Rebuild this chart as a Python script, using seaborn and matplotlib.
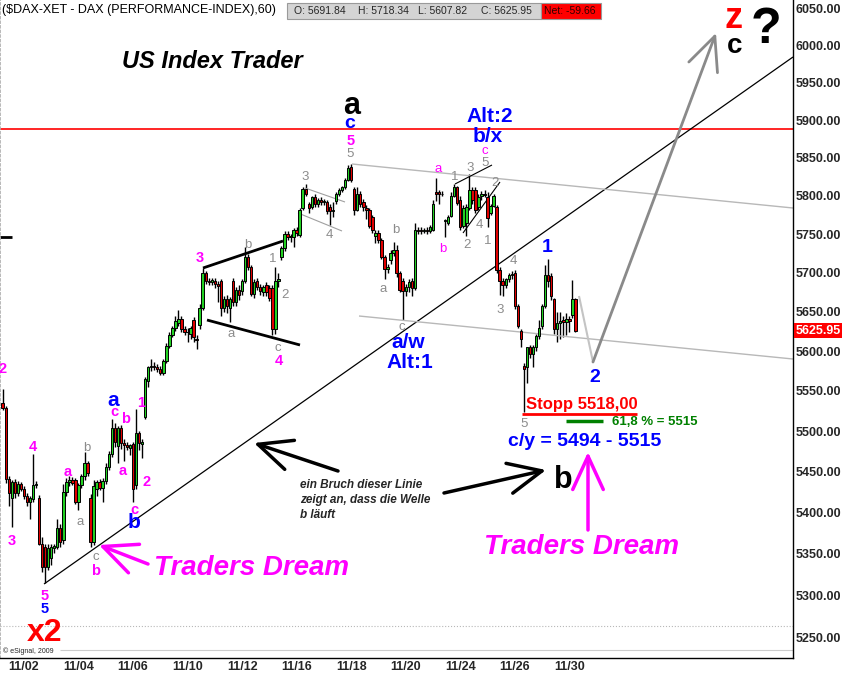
import matplotlib
matplotlib.use("Agg")
import matplotlib.pyplot as plt
import matplotlib.transforms as mtransforms
from matplotlib.patches import Rectangle
from matplotlib.ticker import NullLocator, FuncFormatter
import numpy as np
import seaborn as sns

# hourly DAX bars (30.10. - 30.11.2009)
opens = [5535, 5529, 5441, 5418, 5437, 5423, 5434, 5429, 5420, 5413,
         5416, 5433, 5418, 5362, 5358, 5334, 5345, 5357, 5358, 5381,
         5366, 5425, 5437, 5439, 5440, 5413, 5433, 5444, 5460, 5418,
         5364, 5428, 5437, 5430, 5438, 5456, 5471, 5504, 5482, 5504,
         5485, 5483, 5479, 5484, 5433, 5497, 5484, 5518, 5562, 5580,
         5582, 5580, 5578, 5573, 5588, 5607, 5620, 5629, 5636, 5641,
         5628, 5625, 5622, 5640, 5616, 5633, 5655, 5700, 5690, 5688,
         5690, 5686, 5689, 5655, 5667, 5655, 5689, 5662, 5678, 5677,
         5690, 5721, 5708, 5673, 5690, 5682, 5676, 5684, 5680, 5680,
         5628, 5690, 5720, 5732, 5750, 5746, 5746, 5756, 5749, 5784,
         5809, 5790, 5786, 5798, 5789, 5795, 5792, 5792, 5786, 5780,
         5793, 5802, 5808, 5811, 5821, 5838, 5809, 5782, 5803, 5792,
         5784, 5782, 5772, 5748, 5752, 5743, 5721, 5705, 5717, 5725,
         5730, 5700, 5690, 5677, 5682, 5690, 5680, 5756, 5755, 5754,
         5755, 5754, 5756, 5805, 5805, 5803, 5767, 5764, 5774, 5800,
         5811, 5795, 5761, 5765, 5784, 5808, 5808, 5786, 5800, 5803,
         5798, 5778, 5787, 5785, 5704, 5690, 5684, 5692, 5697, 5700,
         5658, 5626, 5581, 5580, 5605, 5597, 5605, 5619, 5632, 5658,
         5697, 5696, 5666, 5628, 5636, 5640, 5637, 5641, 5646, 5666]
highs = [5553, 5531, 5444, 5440, 5441, 5438, 5437, 5432, 5423, 5420,
         5472, 5438, 5421, 5370, 5362, 5362, 5362, 5362, 5392, 5386,
         5434, 5442, 5445, 5443, 5442, 5436, 5447, 5474, 5463, 5422,
         5440, 5440, 5441, 5442, 5460, 5475, 5515, 5510, 5506, 5508,
         5490, 5486, 5484, 5487, 5528, 5500, 5490, 5568, 5582, 5590,
         5587, 5584, 5582, 5590, 5610, 5624, 5632, 5645, 5652, 5645,
         5632, 5630, 5632, 5643, 5620, 5660, 5706, 5703, 5693, 5694,
         5694, 5690, 5692, 5670, 5672, 5669, 5693, 5682, 5684, 5692,
         5733, 5724, 5710, 5692, 5694, 5686, 5684, 5688, 5684, 5684,
         5708, 5700, 5735, 5754, 5754, 5750, 5758, 5760, 5784, 5812,
         5815, 5792, 5800, 5802, 5797, 5798, 5796, 5795, 5790, 5792,
         5805, 5810, 5813, 5824, 5840, 5842, 5812, 5812, 5806, 5796,
         5788, 5784, 5775, 5756, 5755, 5745, 5723, 5712, 5730, 5740,
         5736, 5702, 5693, 5686, 5692, 5693, 5764, 5760, 5759, 5758,
         5759, 5762, 5795, 5823, 5808, 5806, 5770, 5775, 5805, 5815,
         5813, 5800, 5788, 5790, 5829, 5812, 5812, 5802, 5806, 5808,
         5805, 5790, 5802, 5788, 5708, 5694, 5694, 5700, 5702, 5704,
         5660, 5628, 5585, 5606, 5608, 5608, 5622, 5640, 5660, 5710,
         5718, 5700, 5668, 5650, 5650, 5645, 5648, 5645, 5691, 5668]
lows = [5526, 5436, 5408, 5382, 5418, 5420, 5426, 5416, 5408, 5392,
        5413, 5430, 5360, 5328, 5314, 5330, 5336, 5350, 5355, 5358,
        5362, 5420, 5432, 5433, 5410, 5403, 5430, 5440, 5444, 5358,
        5360, 5420, 5427, 5413, 5434, 5452, 5468, 5480, 5460, 5478,
        5463, 5476, 5470, 5413, 5428, 5476, 5466, 5515, 5555, 5575,
        5576, 5574, 5570, 5570, 5585, 5604, 5618, 5626, 5632, 5625,
        5620, 5612, 5615, 5612, 5603, 5628, 5652, 5686, 5685, 5684,
        5680, 5662, 5645, 5650, 5648, 5637, 5658, 5658, 5665, 5672,
        5687, 5704, 5670, 5668, 5678, 5672, 5670, 5670, 5664, 5620,
        5622, 5682, 5716, 5728, 5742, 5740, 5733, 5748, 5746, 5782,
        5800, 5777, 5783, 5786, 5785, 5788, 5788, 5776, 5762, 5772,
        5790, 5800, 5805, 5809, 5819, 5818, 5775, 5780, 5786, 5780,
        5770, 5758, 5752, 5738, 5738, 5718, 5692, 5700, 5712, 5722,
        5695, 5675, 5640, 5670, 5676, 5670, 5678, 5750, 5750, 5751,
        5750, 5752, 5754, 5793, 5790, 5800, 5746, 5762, 5772, 5798,
        5788, 5755, 5758, 5748, 5782, 5790, 5777, 5782, 5795, 5798,
        5760, 5775, 5785, 5700, 5672, 5670, 5680, 5688, 5692, 5654,
        5630, 5605, 5524, 5560, 5592, 5580, 5600, 5615, 5628, 5655,
        5682, 5665, 5622, 5612, 5615, 5618, 5620, 5625, 5642, 5625]
closes = [5529, 5441, 5424, 5437, 5423, 5434, 5429, 5420, 5413, 5417,
          5433, 5434, 5362, 5334, 5334, 5357, 5358, 5359, 5381, 5364,
          5425, 5437, 5439, 5436, 5413, 5433, 5444, 5460, 5448, 5364,
          5432, 5437, 5430, 5438, 5456, 5471, 5504, 5486, 5504, 5485,
          5483, 5480, 5483, 5428, 5497, 5485, 5486, 5565, 5580, 5582,
          5580, 5578, 5573, 5588, 5607, 5620, 5629, 5638, 5641, 5628,
          5625, 5624, 5630, 5618, 5614, 5655, 5700, 5690, 5688, 5691,
          5686, 5683, 5655, 5667, 5658, 5667, 5662, 5678, 5672, 5690,
          5721, 5708, 5673, 5688, 5682, 5677, 5682, 5676, 5668, 5628,
          5690, 5692, 5732, 5750, 5746, 5748, 5756, 5752, 5782, 5809,
          5803, 5784, 5798, 5790, 5795, 5792, 5793, 5780, 5780, 5782,
          5802, 5808, 5811, 5821, 5837, 5821, 5782, 5803, 5790, 5785,
          5782, 5761, 5755, 5752, 5742, 5721, 5705, 5708, 5725, 5730,
          5700, 5678, 5677, 5682, 5688, 5680, 5756, 5754, 5754, 5755,
          5754, 5759, 5790, 5803, 5803, 5802, 5769, 5772, 5800, 5811,
          5791, 5759, 5784, 5786, 5808, 5795, 5782, 5798, 5803, 5801,
          5771, 5787, 5800, 5704, 5689, 5684, 5692, 5697, 5698, 5658,
          5632, 5615, 5578, 5605, 5597, 5605, 5619, 5629, 5658, 5697,
          5689, 5670, 5628, 5636, 5638, 5637, 5641, 5638, 5666, 5625.95]

date_labels = ["11/02", "11/04", "11/06", "11/10", "11/12", "11/16",
               "11/18", "11/20", "11/24", "11/26", "11/30"]
price_ticks = [5250, 5300, 5350, 5400, 5450, 5500, 5550, 5600, 5650,
               5700, 5750, 5800, 5850, 5900, 5950, 6000, 6050]
header_values = {"O": 5691.84, "H": 5718.34, "L": 5607.82, "C": 5625.95}
net_change = -59.66

W, H = 842, 678
GREEN, RED = "#22d022", "#e00000"
MAGENTA, BLUE, GRAY = "#ff00ff", "#0000ff", "#8c8c8c"

sns.set_theme(style="white")
plt.rcParams["font.family"] = ["Liberation Sans", "DejaVu Sans"]

fig = plt.figure(figsize=(W / 100, H / 100), dpi=100)
fig.patch.set_facecolor("white")
ax = fig.add_axes([0, 20 / H, 793 / W, 658 / H])
ax.set_facecolor("white")
# pixel coordinates of the picture (origin top left) for the drawings
px = mtransforms.Affine2D().scale(1 / W, -1 / H).translate(0, 1) + fig.transFigure

# candles
o = np.array(opens, dtype=float)
c = np.array(closes, dtype=float)
idx = np.arange(len(c))
up = c >= o
ax.set_yscale("log")
ax.vlines(idx, lows, highs, color="black", lw=1, zorder=2)
ax.bar(idx, np.maximum(np.abs(c - o), 0.8), bottom=np.minimum(o, c), width=0.8,
       color=np.where(up, GREEN, RED), edgecolor="black", linewidth=0.7, zorder=3)

ax.set_xlim(-0.89, 260.8)
ax.set_ylim(5225.2, 6062.3)
ax.set_yticks(price_ticks)
ax.yaxis.set_minor_locator(NullLocator())
ax.yaxis.set_major_formatter(FuncFormatter(lambda v, p: f"{v:.2f}"))
ax.yaxis.tick_right()
ax.tick_params(axis="y", length=0, pad=2, labelsize=9)
bars_per_day = 9
ax.set_xticks([7 + 2 * bars_per_day * k for k in range(len(date_labels))])
ax.set_xticklabels(date_labels)
ax.tick_params(axis="x", length=0, pad=2.5, labelsize=9)
for t in ax.get_xticklabels() + ax.get_yticklabels():
    t.set_fontweight("bold")
ax.spines["top"].set_visible(False)
ax.spines["left"].set_color("#b0b0b0")
ax.spines["left"].set_linestyle(":")
for s in ("right", "bottom"):
    ax.spines[s].set_color("black")
    ax.spines[s].set_linewidth(1)

# last price tag
ax.annotate(f"{closes[-1]:.2f}", xy=(1, closes[-1]), xycoords=("axes fraction", "data"),
            xytext=(2, 0), textcoords="offset points", ha="left", va="center",
            color="white", fontsize=9, fontweight="bold", annotation_clip=False,
            bbox=dict(boxstyle="square,pad=0.12", fc="#ff0000", ec="none"))


def seg(xs, ys, **kw):
    ax.plot(xs, ys, transform=px, clip_on=False, solid_capstyle="butt", **kw)


def arrow(x0, y0, x1, y1, color, lw=2.5):
    ax.annotate("", xy=(x1, y1), xytext=(x0, y0), xycoords=px, textcoords=px,
                annotation_clip=False,
                arrowprops=dict(arrowstyle="->,head_length=1.2,head_width=0.55",
                                color=color, lw=lw, mutation_scale=20,
                                shrinkA=0, shrinkB=0))


def txt(x, y, s, color, size, weight="bold", style="normal", ha="center", **kw):
    ax.text(x, y, s, transform=px, color=color, fontsize=size, fontweight=weight,
            fontstyle=style, ha=ha, va="center", **kw)


# drawings
seg([0, 793], [129, 129], color="#ff0000", lw=1.2)
seg([0, 793], [626, 626], color="#b8b8b8", lw=0.8, ls=":")
seg([60, 793], [650, 650], color="#cccccc", lw=0.8)
seg([44, 793], [584, 57], color="black", lw=0.9)
seg([352, 793], [164, 208], color="#b8b8b8", lw=1)
seg([359, 793], [316, 359], color="#b8b8b8", lw=1)
seg([305, 345], [188, 202], color="#a0a0a0", lw=0.8)
seg([298, 342], [213, 231], color="#a0a0a0", lw=0.8)
seg([455, 492], [184, 165], color="black", lw=0.8)
seg([463, 500], [233, 182], color="black", lw=0.8)
seg([203, 283], [268, 241], color="black", lw=2)
seg([207, 300], [320, 345], color="black", lw=2)
seg([0, 12], [237, 237], color="black", lw=2)
seg([522, 637], [414, 414], color="#ff0000", lw=2)
seg([566, 603], [421, 421], color="#008000", lw=2.5)
seg([579, 593], [296, 362], color="#c4c4c4", lw=1.5)
arrow(593, 362, 716, 33, "#8a8a8a", lw=2)
arrow(338, 471, 254, 443, "black")
arrow(444, 493, 546, 470, "black")
arrow(148, 564, 99, 545, MAGENTA)
arrow(588, 530, 588, 452, MAGENTA)

# header
ax.text(2, 10, "($DAX-XET - DAX (PERFORMANCE-INDEX),60)", transform=px, fontsize=9,
        ha="left", va="center", color="black")
ax.add_patch(Rectangle((287, 3), 254, 16, transform=px, fc="#d4d4d4", ec="#9a9a9a",
                       lw=0.8, clip_on=False))
ax.add_patch(Rectangle((541, 3), 60, 16, transform=px, fc="#ff0000", ec="#9a9a9a",
                       lw=0.8, clip_on=False))
for (k, v), x in zip(header_values.items(), [294, 358, 418, 481]):
    ax.text(x, 11, f"{k}: {v:.2f}", transform=px, fontsize=7.5, ha="left", va="center")
ax.text(544, 11, f"Net: {net_change:.2f}", transform=px, fontsize=7.5, ha="left",
        va="center", color="#300000")
ax.text(3, 651, "\u00a9 eSignal, 2009", transform=px, fontsize=5, ha="left", va="center")

# titles and comments
txt(212, 62, "US Index Trader", "black", 17, style="italic")
txt(252, 568, "Traders Dream", MAGENTA, 20, style="italic")
txt(582, 547, "Traders Dream", MAGENTA, 20, style="italic")
ax.text(300, 479, "ein Bruch dieser Linie\nzeigt an, dass die Welle\nb läuft", transform=px,
        fontsize=8.5, fontweight="bold", fontstyle="italic", ha="left", va="top",
        linespacing=1.35)
txt(582, 405, "Stopp 5518,00", "#ff0000", 12)
txt(612, 422, "61,8 % = 5515", "#008000", 9.5, ha="left")
txt(585, 441, "c/y = 5494 - 5515", BLUE, 14)
txt(45, 633, "x2", "#ff0000", 23)
txt(733, 19, "z", "#ff0000", 26)
txt(735, 46, "c", "black", 20)
txt(766, 30, "?", "black", 36)
txt(352, 106, "a", "black", 22)
txt(563, 480, "b", "black", 22)

# wave counts
for x, y, s, size in [(113, 401, "a", 15), (134, 523, "b", 15), (350, 124, "c", 14),
                      (490, 117, "Alt:2", 15), (488, 137, "b/x", 15), (408, 343, "a/w", 15),
                      (410, 362, "Alt:1", 15), (547, 247, "1", 14), (595, 378, "2", 14),
                      (45, 609, "5", 10.5)]:
    txt(x, y, s, BLUE, size)

for x, y, s in [(3, 369, "2"), (12, 541, "3"), (33, 447, "4"), (45, 596, "5"),
                (68, 472, "a"), (96, 571, "b"), (114, 412, "c"), (126, 419, "b"),
                (123, 471, "a"), (141, 403, "1"), (147, 482, "2"), (134, 510, "c"),
                (200, 258, "3"), (279, 361, "4"), (351, 141, "5")]:
    txt(x, y, s, MAGENTA, 10.5)
for x, y, s in [(438, 169, "a"), (443, 249, "b"), (485, 151, "c")]:
    txt(x, y, s, MAGENTA, 9.5, weight="normal")

for x, y, s in [(80, 522, "a"), (87, 448, "b"), (96, 557, "c"), (248, 245, "b"),
                (231, 334, "a"), (273, 259, "1"), (285, 295, "2"), (278, 348, "c"),
                (305, 177, "3"), (329, 235, "4"), (350, 154, "5"), (396, 230, "b"),
                (383, 289, "a"), (402, 327, "c"), (455, 177, "1"), (467, 245, "2"),
                (470, 168, "3"), (479, 225, "4"), (485, 163, "5"), (495, 183, "2"),
                (488, 241, "1"), (513, 261, "4"), (500, 310, "3"), (524, 424, "5")]:
    txt(x, y, s, GRAY, 9.5, weight="normal")

fig.savefig("out.png", dpi=100, facecolor="white")
